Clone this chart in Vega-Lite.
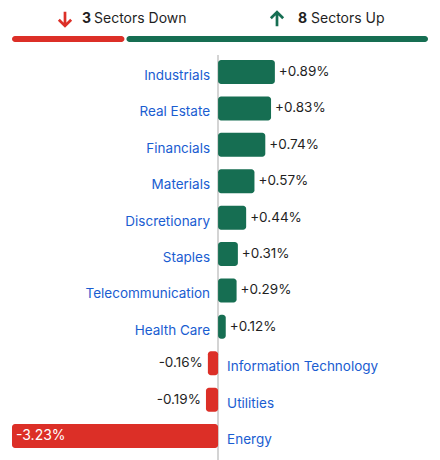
{
  "$schema": "https://vega.github.io/schema/vega-lite/v6.json",
  "padding": {"left": 12, "right": 12, "top": 0, "bottom": 0},
  "spacing": 0,
  "background": "white",
  "config": {"view": {"stroke": null}, "text": {"font": "Inter", "fontSize": 13.5}},
  "datasets": {
    "summary": [
      {"dir": "Down", "count": "3", "label": "Sectors Down", "start": 0, "end": 3},
      {"dir": "Up", "count": "8", "label": "Sectors Up", "start": 3, "end": 11}
    ],
    "sectors": [
      {"sector": "Industrials", "value": 0.89, "label": "+0.89%"},
      {"sector": "Real Estate", "value": 0.83, "label": "+0.83%"},
      {"sector": "Financials", "value": 0.74, "label": "+0.74%"},
      {"sector": "Materials", "value": 0.57, "label": "+0.57%"},
      {"sector": "Discretionary", "value": 0.44, "label": "+0.44%"},
      {"sector": "Staples", "value": 0.31, "label": "+0.31%"},
      {"sector": "Telecommunication", "value": 0.29, "label": "+0.29%"},
      {"sector": "Health Care", "value": 0.12, "label": "+0.12%"},
      {"sector": "Information Technology", "value": -0.16, "label": "-0.16%"},
      {"sector": "Utilities", "value": -0.19, "label": "-0.19%"},
      {"sector": "Energy", "value": -3.23, "label": "-3.23%"}
    ]
  },
  "vconcat": [
    {
      "width": 416,
      "height": 54,
      "data": {"name": "summary"},
      "resolve": {"scale": {"x": "independent"}},
      "layer": [
        {
          "transform": [{"filter": "datum.dir === 'Down'"}],
          "mark": {"type": "bar", "size": 6, "cornerRadius": 3, "x2Offset": -1, "color": "#dc2f27"},
          "encoding": {
            "x": {"field": "start", "type": "quantitative", "scale": {"domain": [0, 11], "nice": false, "zero": false}, "axis": null},
            "x2": {"field": "end"},
            "y": {"datum": "bar", "type": "nominal", "scale": {"type": "point", "domain": ["text", "bar"], "padding": 0.85, "align": 0.559}, "axis": null}
          }
        },
        {
          "transform": [{"filter": "datum.dir === 'Up'"}],
          "mark": {"type": "bar", "size": 6, "cornerRadius": 3, "xOffset": 1, "color": "#166e52"},
          "encoding": {
            "x": {"field": "start", "type": "quantitative", "scale": {"domain": [0, 11], "nice": false, "zero": false}, "axis": null},
            "x2": {"field": "end"},
            "y": {"datum": "bar", "type": "nominal", "scale": {"type": "point", "domain": ["text", "bar"], "padding": 0.85, "align": 0.559}, "axis": null}
          }
        },
        {
          "transform": [{"filter": "datum.dir === 'Down'"}],
          "layer": [
            {"mark": {"type": "point", "shape": "M0,-1L0,0.9M-0.85,0.1L0,0.95L0.85,0.1", "size": 210, "filled": false, "stroke": "#dc2f27", "strokeWidth": 2.7, "strokeCap": "butt", "strokeJoin": "miter", "opacity": 1, "xOffset": -51, "yOffset": 0}, "encoding": {}},
            {"mark": {"type": "text", "fontWeight": "bold", "fontSize": 14, "color": "#1f1f1f", "align": "left", "baseline": "middle", "dx": -34}, "encoding": {"text": {"field": "count"}}},
            {"mark": {"type": "text", "fontSize": 14, "color": "#1f1f1f", "align": "left", "baseline": "middle", "dx": -22}, "encoding": {"text": {"field": "label"}}}
          ],
          "encoding": {
            "x": {"field": "dir", "type": "nominal", "scale": {"domain": ["Down", "Up"]}, "axis": null},
            "y": {"datum": "text", "type": "nominal", "scale": {"type": "point", "domain": ["text", "bar"], "padding": 0.85, "align": 0.559}, "axis": null}
          }
        },
        {
          "transform": [{"filter": "datum.dir === 'Up'"}],
          "layer": [
            {"mark": {"type": "point", "shape": "M0,1L0,-0.9M-0.85,-0.1L0,-0.95L0.85,-0.1", "size": 210, "filled": false, "stroke": "#166e52", "strokeWidth": 2.7, "strokeCap": "butt", "strokeJoin": "miter", "opacity": 1, "xOffset": -47, "yOffset": 0}, "encoding": {}},
            {"mark": {"type": "text", "fontWeight": "bold", "fontSize": 14, "color": "#1f1f1f", "align": "left", "baseline": "middle", "dx": -26}, "encoding": {"text": {"field": "count"}}},
            {"mark": {"type": "text", "fontSize": 14, "color": "#1f1f1f", "align": "left", "baseline": "middle", "dx": -13}, "encoding": {"text": {"field": "label"}}}
          ],
          "encoding": {
            "x": {"field": "dir", "type": "nominal", "scale": {"domain": ["Down", "Up"]}, "axis": null},
            "y": {"datum": "text", "type": "nominal", "scale": {"type": "point", "domain": ["text", "bar"], "padding": 0.85, "align": 0.559}, "axis": null}
          }
        }
      ]
    },
    {
      "width": 416,
      "height": 406,
      "data": {"name": "sectors"},
      "encoding": {
        "y": {"field": "sector", "type": "nominal", "sort": null, "scale": {"paddingInner": 0.34, "paddingOuter": 0.247, "align": 0.28}, "axis": null}
      },
      "layer": [
        {
          "mark": {"type": "rule", "color": "#d4d4d4", "strokeWidth": 1},
          "encoding": {
            "x": {"datum": 0, "type": "quantitative", "scale": {"domain": [-3.23, 3.29], "nice": false, "zero": false}, "axis": null},
            "y": null
          }
        },
        {
          "mark": {"type": "bar", "cornerRadius": 3},
          "encoding": {
            "x": {"field": "value", "type": "quantitative", "scale": {"domain": [-3.23, 3.29], "nice": false, "zero": false}, "axis": null},
            "x2": {"datum": 0},
            "color": {"condition": {"test": "datum.value > 0", "value": "#166e52"}, "value": "#dc2f27"}
          }
        },
        {
          "transform": [{"filter": "datum.value > 0"}],
          "mark": {"type": "text", "align": "left", "baseline": "middle", "dx": 4, "color": "#1f1f1f"},
          "encoding": {"x": {"field": "value", "type": "quantitative"}, "text": {"field": "label"}}
        },
        {
          "transform": [{"filter": "datum.value < 0 && datum.value > -1"}],
          "mark": {"type": "text", "align": "right", "baseline": "middle", "dx": -5, "color": "#1f1f1f"},
          "encoding": {"x": {"field": "value", "type": "quantitative"}, "text": {"field": "label"}}
        },
        {
          "transform": [{"filter": "datum.value <= -1"}],
          "mark": {"type": "text", "align": "left", "baseline": "middle", "dx": 4, "color": "white", "fontSize": 14},
          "encoding": {"x": {"field": "value", "type": "quantitative"}, "text": {"field": "label"}}
        },
        {
          "transform": [{"filter": "datum.value > 0"}],
          "mark": {"type": "text", "align": "right", "baseline": "middle", "dx": -8, "dy": 4, "color": "#1a5dd1"},
          "encoding": {"x": {"datum": 0, "type": "quantitative"}, "text": {"field": "sector"}}
        },
        {
          "transform": [{"filter": "datum.value < 0"}],
          "mark": {"type": "text", "align": "left", "baseline": "middle", "dx": 9, "dy": 4, "color": "#1a5dd1"},
          "encoding": {"x": {"datum": 0, "type": "quantitative"}, "text": {"field": "sector"}}
        }
      ]
    }
  ]
}
